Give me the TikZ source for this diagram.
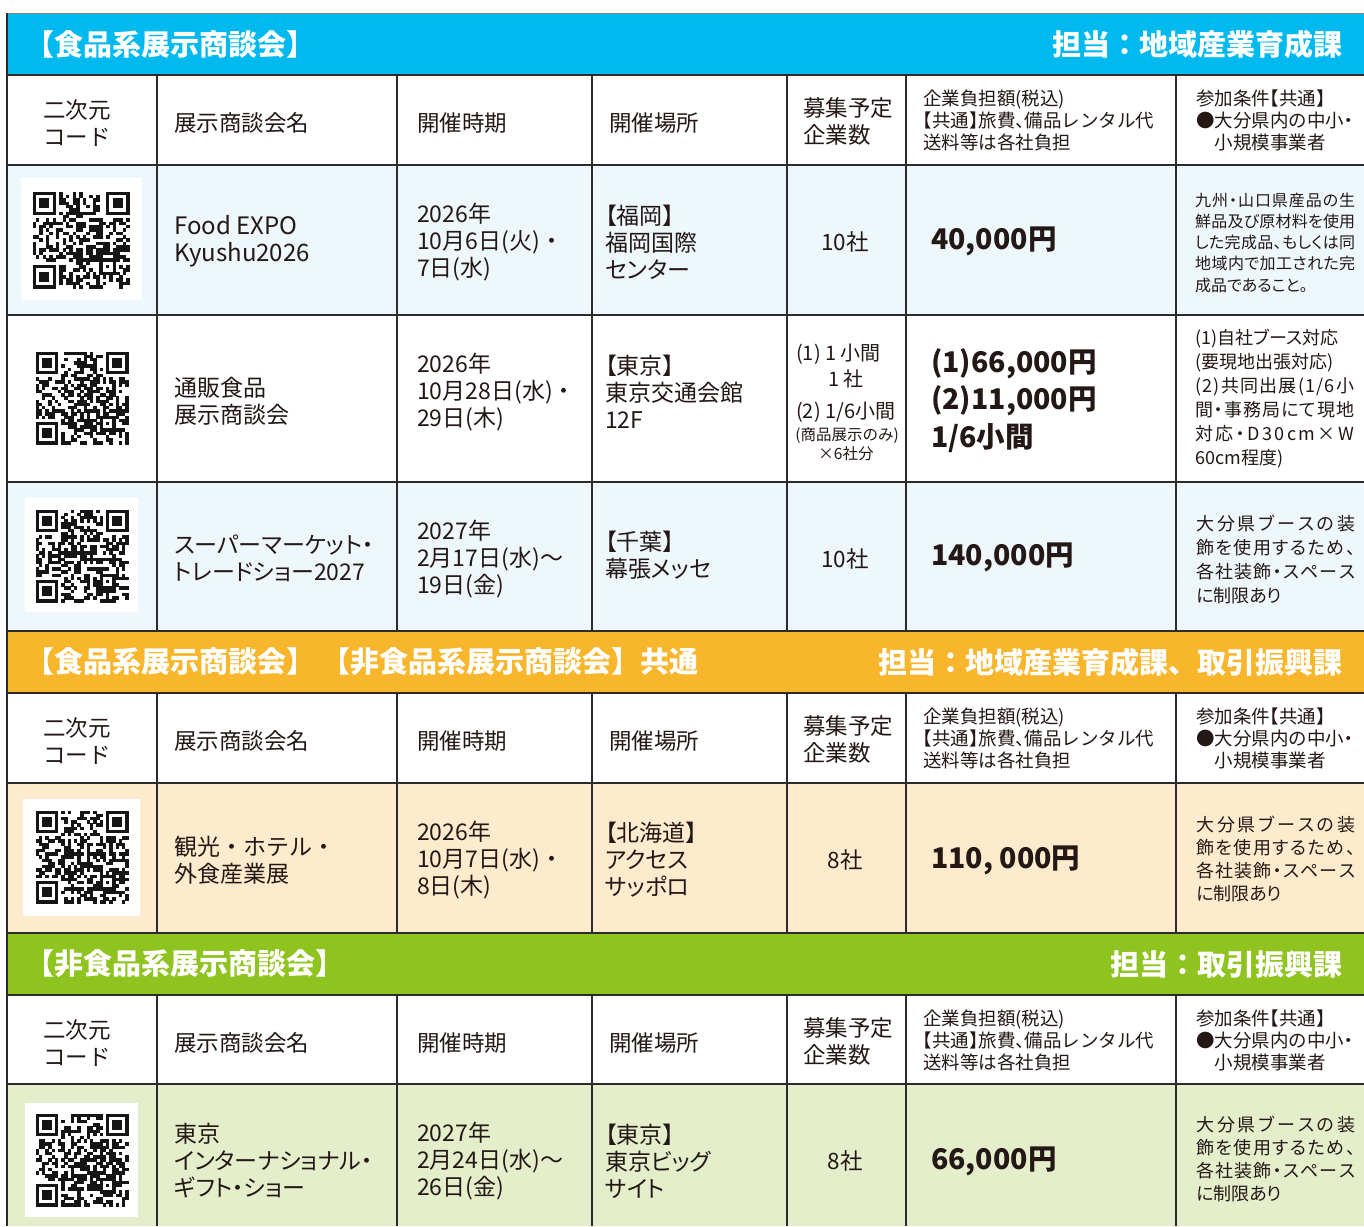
\documentclass[tikz,border=0pt]{standalone}
\usepackage{fontspec}
\setmainfont{Noto Sans CJK JP}
\newfontfamily\pfont{Noto Sans CJK JP}[RawFeature=+palt]
\definecolor{cyanband}{HTML}{00B9EF}
\definecolor{orangeband}{HTML}{F8B62D}
\definecolor{greenband}{HTML}{8FC31F}
\definecolor{lblue}{HTML}{EEF7FC}
\definecolor{lorange}{HTML}{FEEBCD}
\definecolor{lgreen}{HTML}{E4EECB}
\definecolor{ink}{HTML}{231815}
\definecolor{gridc}{HTML}{2B2B2B}
\definecolor{qrink}{HTML}{151515}
\newcommand\hw[1]{{\addfontfeature{RawFeature=+halt}#1}}
\newcommand\spr[2]{\makebox[#1][s]{\sprloop#2\sprend}}
\def\sprloop#1#2\sprend{#1\ifx\relax#2\relax\else\hfil\sprloop#2\sprend\fi}
\newcommand\qrcode[4]{%
  \pgfmathsetseed{#4}%
  \pgfmathsetmacro\qm{#3/29}%
  \pgfmathsetmacro\qx{#1-#3/2}%
  \pgfmathsetmacro\qy{#2-#3/2}%
  \foreach \i in {0,...,28}{%
    \foreach \j in {0,...,28}{%
      \pgfmathtruncatemacro\qb{2*rnd}%
      \ifnum\qb=1
        \fill[qrink] ({\qx+\i*\qm},{\qy+\j*\qm}) rectangle ++({\qm+0.2},{\qm+0.2});
      \fi
    }%
  }%
  \foreach \a/\b/\c/\d in {0/0/8/8, 21/0/29/8, 0/21/8/29}{%
    \fill[white] ({\qx+\a*\qm},{\qy+\b*\qm}) rectangle ({\qx+\c*\qm},{\qy+\d*\qm});
  }%
  \foreach \a/\b in {0/0,22/0,0/22}{%
    \fill[qrink] ({\qx+\a*\qm},{\qy+\b*\qm}) rectangle ++({7*\qm},{7*\qm});
    \fill[white] ({\qx+(\a+1)*\qm},{\qy+(\b+1)*\qm}) rectangle ++({5*\qm},{5*\qm});
    \fill[qrink] ({\qx+(\a+2)*\qm},{\qy+(\b+2)*\qm}) rectangle ++({3*\qm},{3*\qm});
  }%
  \fill[qrink] ({\qx+20*\qm},{\qy+20*\qm}) rectangle ++({5*\qm},{5*\qm});
  \fill[white] ({\qx+21*\qm},{\qy+21*\qm}) rectangle ++({3*\qm},{3*\qm});
  \fill[qrink] ({\qx+22*\qm},{\qy+22*\qm}) rectangle ++(\qm,\qm);
}
\tikzset{
  txt/.style={anchor=west, inner sep=0pt, align=left, text=ink, font=\fontsize{23}{27}\selectfont},
  ptxt/.style={anchor=west, inner sep=0pt, align=left, text=ink, font=\pfont\fontsize{23}{27}\selectfont},
  htxt/.style={anchor=west, inner sep=0pt, align=left, text=ink, font=\fontsize{22.5}{27}\selectfont},
  ctxt/.style={inner sep=0pt, align=center, text=ink, font=\fontsize{22.5}{27}\selectfont},
  hsmall/.style={anchor=west, inner sep=0pt, align=left, text=ink, font=\fontsize{18.5}{22}\selectfont},
  price/.style={anchor=west, inner sep=0pt, align=left, text=ink, font=\bfseries\fontsize{28.5}{37.5}\selectfont},
  note/.style={anchor=west, inner sep=0pt, align=left, text=ink},
  bandL/.style={anchor=west, inner sep=0pt, text=white, font=\bfseries\fontsize{29}{34}\selectfont},
  bandR/.style={anchor=east, inner sep=0pt, text=white, font=\bfseries\fontsize{29}{34}\selectfont},
  gridline/.style={draw=gridc, line width=1.6pt},
  qrbox/.style={fill=white, draw=none},
}
\newcommand\hdr[2]{%
  \node[ctxt] (qrh#2) at (77,#1+48) {二次元\\コード};
  \node[htxt] (nmh#2) at (174,#1+48) {展示商談会名};
  \node[htxt] (dth#2) at (417,#1+48) {開催時期};
  \node[htxt] (plh#2) at (609,#1+48) {開催場所};
  \node[htxt] (cnh#2) at (803,#1+46) {募集予定\\企業数};
  \node[hsmall] (prh#2) at (923,#1+45) {企業負担額(税込)\\\hw{【}共通\hw{】}旅費\hw{、}備品レンタル代\\送料等は各社負担};
  \node[hsmall] (cdh#2) at (1196,#1+45) {参加条件\hw{【}共通\hw{】}\\●大分県内の中小\hw{・}\\\hspace*{1em}小規模事業者};
}
\newcommand\vcols[2]{%
  \foreach \xx in {157,397,592,787,906,1176}{\draw[gridline] (\xx,#1) -- (\xx,#2);}
}
\begin{document}
\begin{tikzpicture}[x=1pt,y=-1pt]
\useasboundingbox (0,0) rectangle (1364,1226);
\fill[white] (0,0) rectangle (1364,1226);
% backgrounds
\fill[cyanband] (7,13) rectangle (1364,75);
\fill[lblue] (7,165) rectangle (1364,315);
\fill[lblue] (7,482) rectangle (1364,631);
\fill[orangeband] (7,631) rectangle (1364,693);
\fill[lorange] (7,783) rectangle (1364,933);
\fill[greenband] (7,933) rectangle (1364,995);
\fill[lgreen] (7,1084) rectangle (1364,1226);
% QR boxes and codes
\fill[qrbox] (21,178) rectangle (142,300);
\fill[qrbox] (25,498) rectangle (138,612);
\fill[qrbox] (23,799) rectangle (140,916);
\fill[qrbox] (25,1103) rectangle (138,1217);
\qrcode{81}{240}{97}{11}
\qrcode{82}{398}{93}{23}
\qrcode{82}{556}{93}{37}
\qrcode{82}{857}{93}{41}
\qrcode{82}{1160}{93}{59}
% grid
\draw[draw=gray, line width=1pt] (7,13) -- (1364,13);
\foreach \yy in {75,165,315,482,631,693,783,933,995,1084}{\draw[gridline] (7,\yy) -- (1364,\yy);}
\draw[gridline] (7,12.5) -- (7,1226);
\vcols{75}{631}
\vcols{693}{933}
\vcols{995}{1226}
% band 1
\node[bandL] (b1l) at (25,44) {【食品系展示商談会】};
\node[bandR] (b1r) at (1343,44) {担当：地域産業育成課};
\hdr{75}{a}
% row 1
\node[txt, font=\fontsize{24}{27}\selectfont] (nm1) at (174,241) {Food EXPO\\Kyushu2026};
\node[txt] (dt1) at (417,242) {2026年\\10月6日(火)・\\7日(水)};
\node[ptxt] (pl1) at (605,242) {【福岡】\\福岡国際\\センター};
\node[ctxt] (cn1) at (845,242) {10社};
\node[price] (pr1) at (931,241) {40,000円};
\node[note, font=\pfont\fontsize{16}{21.25}\selectfont] (cd1) at (1195,242.5) {\spr{160pt}{九州・山口県産品の生}\\\spr{160pt}{鮮品及び原材料を使用}\\\spr{160pt}{した完成品、もしくは同}\\\spr{160pt}{地域内で加工された完}\\成品であること。};
% row 2
\node[ptxt] (nm2) at (174,401) {通販食品\\展示商談会};
\node[txt] (dt2) at (417,392) {2026年\\10月28日(水)・\\29日(木)};
\node[ptxt] (pl2) at (605,392) {【東京】\\東京交通会館\\12F};
\node[txt, font=\fontsize{20}{24}\selectfont] (cn2a) at (796,354) {(1) 1 小間};
\node[ctxt, font=\fontsize{20}{24}\selectfont] (cn2b) at (846,379) {1 社};
\node[txt, font=\fontsize{20}{24}\selectfont] (cn2c) at (796,412) {(2) 1/6小間};
\node[ctxt, font=\fontsize{15.5}{18}\selectfont] (cn2d) at (847,436) {(商品展示のみ)};
\node[ctxt, font=\fontsize{15.5}{18}\selectfont] (cn2e) at (846,454) {×6社分};
\node[price] (pr2) at (931,400.5) {(1)66,000円\\(2)11,000円\\1/6小間};
\node[note, font=\pfont\fontsize{18}{24}\selectfont] (cd2) at (1195,399) {(1)自社ブース対応\\(要現地出張対応)\\\spr{159pt}{(2)共同出展(1/6小}\\\spr{159pt}{間・事務局にて現地}\\\spr{159pt}{対応・D30cm×W}\\60cm程度)};
% row 3
\node[ptxt] (nm3) at (174,558.5) {スーパーマーケット・\\トレードショー2027};
\node[txt] (dt3) at (417,559) {2027年\\2月17日(水)～\\19日(金)};
\node[ptxt] (pl3) at (605,555.5) {【千葉】\\幕張メッセ};
\node[ctxt] (cn3) at (845,559) {10社};
\node[price] (pr3) at (931,557) {140,000円};
\node[note, font=\pfont\fontsize{18}{24}\selectfont] (cd3) at (1196,559) {\spr{159pt}{大分県ブースの装}\\\spr{159pt}{飾を使用するため、}\\\spr{159pt}{各社装飾・スペース}\\に制限あり};
% orange band
\node[bandL] (b2l) at (25,662) {【食品系展示商談会】 【非食品系展示商談会】共通};
\node[bandR] (b2r) at (1343,662) {担当：地域産業育成課、取引振興課};
\hdr{693}{b}
% row 4
\node[txt] (nm4) at (174,860.5) {観光・ホテル・\\外食産業展};
\node[txt] (dt4) at (417,860) {2026年\\10月7日(水)・\\8日(木)};
\node[ptxt] (pl4) at (605,860) {【北海道】\\アクセス\\サッポロ};
\node[ctxt] (cn4) at (845,860) {8社};
\node[price] (pr4) at (931,860) {110, 000円};
\node[note, font=\pfont\fontsize{18}{23}\selectfont] (cd4) at (1196,859) {\spr{159pt}{大分県ブースの装}\\\spr{159pt}{飾を使用するため、}\\\spr{159pt}{各社装飾・スペース}\\に制限あり};
% green band
\node[bandL] (b3l) at (25,964) {【非食品系展示商談会】};
\node[bandR] (b3r) at (1343,964) {担当：取引振興課};
\hdr{995}{c}
% row 5
\node[ptxt] (nm5) at (174,1161) {東京\\インターナショナル・\\ギフト・ショー};
\node[txt] (dt5) at (417,1161) {2027年\\2月24日(水)～\\26日(金)};
\node[ptxt] (pl5) at (605,1161) {【東京】\\東京ビッグ\\サイト};
\node[ctxt] (cn5) at (845,1161) {8社};
\node[price] (pr5) at (931,1161) {66,000円};
\node[note, font=\pfont\fontsize{18}{23}\selectfont] (cd5) at (1196,1159) {\spr{159pt}{大分県ブースの装}\\\spr{159pt}{飾を使用するため、}\\\spr{159pt}{各社装飾・スペース}\\に制限あり};
\end{tikzpicture}
\end{document}
